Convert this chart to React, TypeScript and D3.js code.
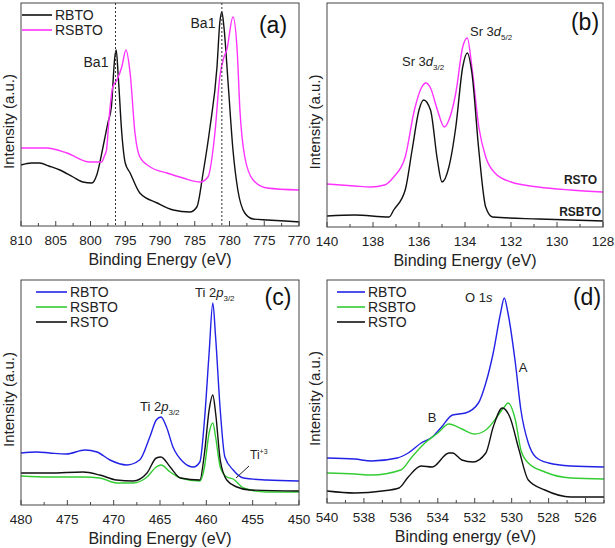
import React from "react";
import * as d3 from "d3";

// ---------- data (binding energy eV, intensity a.u.) ----------
const aRBTO: [number, number][] = [[810,61],[808.5,63],[807.3,63],[806,60],[804.4,56],[802.5,49],[801.1,44],[799.8,43],[799.1,51],[798.2,79],[797.5,103],[797.0,119],[796.5,169],[796.3,176],[796.0,149],[795.5,93],[795.0,63],[794.3,53],[792.9,33],[790.4,23],[788.1,16],[785.7,14],[784.7,19],[783.8,53],[782.8,99],[781.8,159],[781.4,203],[781.1,214],[780.8,199],[780.2,143],[779.5,76],[778.8,36],[777.8,13],[776.6,7],[774.6,6],[772,5],[770,4]];
const aRSBTO: [number, number][] = [[810,78],[806.3,78],[803.4,73],[800.1,64],[798.4,64],[798.0,70],[797.7,76],[797.3,110],[796.8,139],[796.2,146],[795.5,159],[794.9,176],[794.3,153],[793.6,93],[792.9,69],[791.4,59],[789.0,53],[786.7,48],[784.2,44],[783.1,49],[782.1,93],[781.4,149],[780.8,169],[780.4,176],[779.5,209],[778.9,176],[778.5,116],[777.8,69],[776.6,46],[774.6,38],[770,36]];

const bRSTO: [number, number][] = [[140,43],[138.8,41],[138.1,40],[137.5,42],[137.1,50],[136.6,70],[136.2,117],[135.9,139],[135.7,144],[135.5,139],[135.2,117],[134.9,100],[134.7,107],[134.4,134],[134.1,180],[133.9,189],[133.7,160],[133.4,100],[133.1,70],[132.7,54],[132.0,45],[130.8,40],[129.4,37],[128,35]];
const bRSBTO: [number, number][] = [[140,11],[138.8,12],[137.3,10],[137.1,17],[136.6,37],[136.3,77],[136.0,117],[135.8,127],[135.5,117],[135.2,67],[135.0,45],[134.7,60],[134.4,100],[134.1,160],[133.9,174],[133.7,154],[133.4,77],[133.1,20],[132.8,10],[130.8,8],[128,6]];

const cRBTO: [number, number][] = [[480,52],[478.3,53],[476.9,52],[475.1,51],[473.1,55],[471.8,53],[470.4,45],[468.6,40],[467.2,45],[466.1,68],[465.4,85],[464.9,88],[464.3,78],[463.6,58],[462.5,43],[461.4,38],[460.7,43],[460.2,85],[459.7,152],[459.3,202],[459.0,168],[458.5,95],[458.0,48],[457.1,35],[456.0,27],[453.5,25],[450,24]];
const cRSBTO: [number, number][] = [[480,29],[476.9,28],[473.3,28],[471.5,27],[469.7,22],[467.9,22],[466.4,28],[465.4,38],[464.9,40],[463.9,33],[462.8,27],[460.7,24],[460.2,38],[459.7,72],[459.3,82],[459.0,68],[458.5,38],[457.8,28],[457.1,26],[456.0,17],[453.5,13],[450,13]];
const cRSTO: [number, number][] = [[480,32],[476.9,32],[473.3,33],[471.5,30],[469.7,25],[467.9,24],[466.4,32],[465.4,47],[464.9,48],[463.9,38],[462.8,27],[460.7,25],[460.2,52],[459.7,95],[459.3,110],[459.0,92],[458.5,45],[457.8,25],[456.7,18],[455.3,15],[450,14]];

const dRBTO: [number, number][] = [[540,45],[538.5,44],[537.6,42],[536.2,45],[535.6,50],[534.9,60],[534.3,66],[533.8,76],[533.2,88],[532.5,90],[531.8,100],[531.4,120],[531.0,150],[530.6,190],[530.4,205],[530.2,190],[529.8,140],[529.5,93],[529.1,60],[528.7,46],[528.0,40],[526.8,37],[525,36]];
const dRSBTO: [number, number][] = [[540,30],[538.5,29],[537.6,28],[536.0,33],[535.4,46],[534.7,60],[534.0,70],[533.4,79],[532.7,74],[532.0,69],[531.4,73],[530.8,86],[530.4,96],[530.2,100],[529.8,83],[529.5,53],[529.1,40],[528.2,31],[526.8,25],[525,24]];
const dRSTO: [number, number][] = [[540,12],[538.5,10],[537.0,12],[536.1,15],[535.6,26],[534.9,37],[534.3,36],[533.4,50],[533.2,50],[532.7,43],[532.1,41],[531.4,50],[531.0,76],[530.5,95],[530.1,86],[529.6,53],[529.1,23],[528.2,13],[526.8,6],[525,6]];

const aTicks = [810, 805, 800, 795, 790, 785, 780, 775, 770];
const bTicks = [140, 138, 136, 134, 132, 130, 128];
const cTicks = [480, 475, 470, 465, 460, 455, 450];
const dTicks = [540, 538, 536, 534, 532, 530, 528, 526];

const PINK = "#ff33ff";
const BLUE = "#2222e6";
const GREEN = "#33cc33";
const BLACK = "#111111";
const FONT = "Liberation Sans, Arial, sans-serif";

type Series = { name: string; data: [number, number][]; color: string };

function Panel(props: {
  x0: number; x1: number; top: number; bottom: number;
  domain: [number, number]; ticks: number[]; minorStep: number;
  series: Series[]; letter: string; letterX: number; letterY: number;
  xTitle: string; children?: React.ReactNode;
}) {
  const { x0, x1, top, bottom, domain, ticks, minorStep, series } = props;
  const x = d3.scaleLinear().domain(domain).range([x0, x1]);
  const y = d3.scaleLinear().domain([0, bottom - top]).range([bottom, top]);
  const line = d3.line<[number, number]>().x(d => x(d[0])).y(d => y(d[1])).curve(d3.curveMonotoneX);
  const lo = Math.min(domain[0], domain[1]);
  const hi = Math.max(domain[0], domain[1]);
  const minor = d3.range(lo, hi + 1e-9, minorStep).filter(v => !ticks.some(t => Math.abs(t - v) < 1e-6));
  return (
    <g>
      {series.map(s => (
        <path key={s.name} d={line(s.data) || ""} fill="none" stroke={s.color} strokeWidth={1.4} strokeLinejoin="round" />
      ))}
      <rect x={x0} y={top} width={x1 - x0} height={bottom - top} fill="none" stroke="#444" strokeWidth={1} />
      {ticks.map(t => (
        <g key={t}>
          <line x1={x(t)} x2={x(t)} y1={bottom} y2={bottom - 5} stroke="#444" />
          <text x={x(t)} y={bottom + 19} textAnchor="middle" fontSize={13.5} fontFamily={FONT} fill="#222">{t}</text>
        </g>
      ))}
      {minor.map(t => (
        <line key={"m" + t} x1={x(t)} x2={x(t)} y1={bottom} y2={bottom - 3} stroke="#444" />
      ))}
      <text x={(x0 + x1) / 2} y={bottom + 39} textAnchor="middle" fontSize={16} fontFamily={FONT} fill="#222">{props.xTitle}</text>
      <text transform={`translate(${x0 - 7},${(top + bottom) / 2 + 7}) rotate(-90)`} textAnchor="middle" fontSize={15} fontFamily={FONT} fill="#222">Intensity (a.u.)</text>
      <text x={props.letterX} y={props.letterY} textAnchor="middle" fontSize={23} fontFamily={FONT} fill="#111">{props.letter}</text>
      {props.children}
    </g>
  );
}

function Legend(props: { x: number; y: number; items: Series[]; len: number }) {
  return (
    <g>
      {props.items.map((s, i) => (
        <g key={s.name}>
          <line x1={props.x} x2={props.x + props.len} y1={props.y + i * 15} y2={props.y + i * 15} stroke={s.color} strokeWidth={1.6} />
          <text x={props.x + props.len + 3} y={props.y + i * 15 + 5} fontSize={14} fontFamily={FONT} fill="#222">{s.name}</text>
        </g>
      ))}
    </g>
  );
}

function Sub(props: { x: number; y: number; pre: string; it: string; sub: string; anchor?: string }) {
  return (
    <text x={props.x} y={props.y} fontSize={13} fontFamily={FONT} fill="#222" textAnchor={props.anchor || "start"}>
      {props.pre}<tspan fontStyle="italic">{props.it}</tspan><tspan fontSize={8} dy={4}>{props.sub}</tspan>
    </text>
  );
}

export default function App() {
  const aS: Series[] = [{ name: "RBTO", data: aRBTO, color: BLACK }, { name: "RSBTO", data: aRSBTO, color: PINK }];
  const bS: Series[] = [{ name: "RSTO", data: bRSTO, color: PINK }, { name: "RSBTO", data: bRSBTO, color: BLACK }];
  const cS: Series[] = [{ name: "RBTO", data: cRBTO, color: BLUE }, { name: "RSBTO", data: cRSBTO, color: GREEN }, { name: "RSTO", data: cRSTO, color: BLACK }];
  const dS: Series[] = [{ name: "RBTO", data: dRBTO, color: BLUE }, { name: "RSBTO", data: dRSBTO, color: GREEN }, { name: "RSTO", data: dRSTO, color: BLACK }];
  const xa = d3.scaleLinear().domain([810, 770]).range([21, 299]);
  return (
    <svg width={615} height={548} style={{ position: "absolute", left: 0, top: 0, background: "#fff" }}>
      <Panel x0={21} x1={299} top={3} bottom={226} domain={[810, 770]} ticks={aTicks} minorStep={2.5} series={aS}
        letter="(a)" letterX={273} letterY={33} xTitle="Binding Energy (eV)">
        <line x1={xa(796.4)} x2={xa(796.4)} y1={3} y2={226} stroke="#333" strokeDasharray="2,2" />
        <line x1={xa(781.1)} x2={xa(781.1)} y1={3} y2={226} stroke="#333" strokeDasharray="2,2" />
        <Legend x={22} y={15} items={aS} len={30} />
        <text x={96} y={67} textAnchor="middle" fontSize={14} fontFamily={FONT} fill="#222">Ba1</text>
        <text x={203} y={28} textAnchor="middle" fontSize={14} fontFamily={FONT} fill="#222">Ba1</text>
      </Panel>
      <Panel x0={327} x1={603} top={3} bottom={227} domain={[140, 128]} ticks={bTicks} minorStep={1} series={bS}
        letter="(b)" letterX={585} letterY={30} xTitle="Binding Energy (eV)">
        <Sub x={402} y={66} pre="Sr 3" it="d" sub="3/2" />
        <Sub x={470} y={36} pre="Sr 3" it="d" sub="5/2" />
        <text x={597} y={184} textAnchor="end" fontSize={12} fontWeight="bold" fontFamily={FONT} fill="#222">RSTO</text>
        <text x={601} y={216} textAnchor="end" fontSize={12} fontWeight="bold" fontFamily={FONT} fill="#222">RSBTO</text>
      </Panel>
      <Panel x0={21} x1={299} top={280} bottom={505} domain={[480, 450]} ticks={cTicks} minorStep={2.5} series={cS}
        letter="(c)" letterX={278} letterY={305} xTitle="Binding Energy (eV)">
        <Legend x={36} y={292} items={cS} len={31} />
        <Sub x={140} y={411} pre="Ti 2" it="p" sub="3/2" />
        <Sub x={195} y={297} pre="Ti 2" it="p" sub="3/2" />
        <text x={250} y={459} fontSize={12} fontFamily={FONT} fill="#222">Ti<tspan fontSize={7} dy={-5}>+3</tspan></text>
        <line x1={249} y1={466} x2={236} y2={478} stroke="#222" strokeWidth={1} />
      </Panel>
      <Panel x0={327} x1={604} top={280} bottom={503} domain={[540, 525]} ticks={dTicks} minorStep={1} series={dS}
        letter="(d)" letterX={587} letterY={305} xTitle="Binding energy (eV)">
        <Legend x={337} y={292} items={dS} len={28} />
        <text x={465} y={302} fontSize={13} fontFamily={FONT} fill="#222">O 1<tspan fontStyle="italic">s</tspan></text>
        <text x={523} y={372} textAnchor="middle" fontSize={13} fontFamily={FONT} fill="#222">A</text>
        <text x={432} y={422} textAnchor="middle" fontSize={13} fontFamily={FONT} fill="#222">B</text>
      </Panel>
    </svg>
  );
}
